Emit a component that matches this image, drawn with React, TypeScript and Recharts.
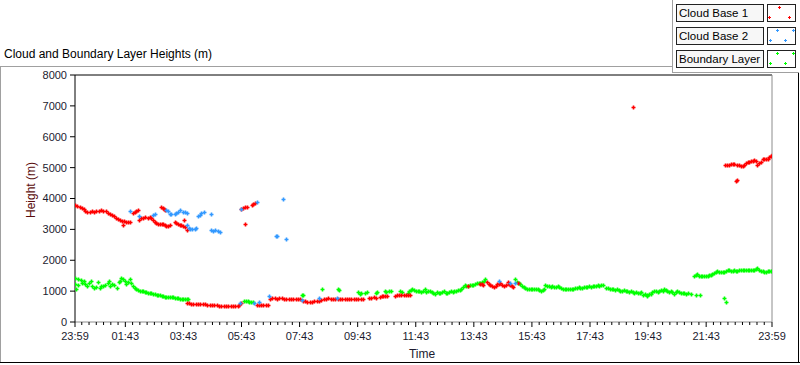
import React from "react";
import { ScatterChart, Scatter, XAxis, YAxis, ReferenceLine } from "recharts";

// hours since 23:59, label for each major tick
const timeTicks = [0, 1.7333, 3.7333, 5.7333, 7.7333, 9.7333, 11.7333, 13.7333, 15.7333, 17.7333, 19.7333, 21.7333, 24];
const timeLabels = ["23:59", "01:43", "03:43", "05:43", "07:43", "09:43", "11:43", "13:43", "15:43", "17:43", "19:43", "21:43", "23:59"];
const heightTicks = [0, 1000, 2000, 3000, 4000, 5000, 6000, 7000, 8000];

// [hours since 23:59, height m]
const cloudBase1: [number, number][] = [
  [0, 3780], [0.08, 3750], [0.16, 3720], [0.24, 3690], [0.3, 3660], [0.36, 3600], [0.42, 3570], [0.5, 3570],
  [0.58, 3580], [0.66, 3570], [0.74, 3590], [0.82, 3610], [0.9, 3620], [0.98, 3600], [1.06, 3580], [1.13, 3540],
  [1.2, 3500], [1.27, 3450], [1.34, 3420], [1.41, 3380], [1.48, 3350], [1.55, 3300], [1.62, 3270], [1.67, 3130],
  [1.7, 3260], [1.77, 3250], [1.84, 3230], [1.9, 3240],
  [1.99, 3530], [2.05, 3570], [2.11, 3600], [2.17, 3620], [2.22, 3290],
  [2.28, 3380], [2.35, 3380], [2.42, 3390], [2.5, 3380], [2.57, 3400], [2.63, 3360], [2.69, 3310], [2.75, 3250],
  [2.8, 3200], [2.86, 3190], [2.92, 3180], [2.98, 3170], [3.04, 3160], [3.1, 3150], [3.15, 3120], [3.2, 3095], [3.26, 3130],
  [2.97, 3730], [3.02, 3700], [3.07, 3660], [3.11, 3640],
  [3.43, 3240], [3.49, 3210], [3.55, 3180], [3.6, 3150], [3.66, 3130], [3.72, 3100], [3.78, 3070], [3.74, 3310], [3.87, 2990],
  [3.84, 600], [3.92, 600], [4.0, 598], [4.08, 595], [4.16, 592], [4.24, 590], [4.32, 590], [4.4, 585], [4.48, 575],
  [4.56, 565], [4.64, 555], [4.72, 548], [4.8, 545], [4.88, 540], [4.96, 530], [5.04, 525], [5.12, 515], [5.2, 512],
  [5.28, 510], [5.36, 515], [5.44, 510], [5.52, 512], [5.6, 530], [5.66, 560], [5.72, 600],
  [5.73, 3670], [5.79, 3700], [5.85, 3720], [5.91, 3740], [5.85, 3175], [6.08, 3800], [6.14, 3830], [6.2, 3860],
  [6.25, 545], [6.33, 545], [6.41, 545], [6.49, 545], [6.57, 548], [6.65, 545],
  [6.72, 760], [6.8, 770], [6.88, 780], [6.96, 760], [7.04, 770], [7.12, 775], [7.2, 760], [7.28, 750], [7.36, 740],
  [7.44, 740], [7.52, 740], [7.6, 745], [7.68, 745], [7.76, 740], [7.84, 690], [7.92, 670], [8.0, 660], [8.08, 650],
  [8.16, 660], [8.24, 670], [8.32, 665], [8.4, 690], [8.48, 720], [8.56, 740], [8.64, 760], [8.72, 770], [8.8, 760],
  [8.88, 750], [8.96, 745], [9.04, 760], [9.12, 750], [9.2, 745], [9.28, 740], [9.36, 750], [9.44, 755], [9.52, 745],
  [9.6, 750], [9.68, 760], [9.76, 755], [9.84, 750], [9.92, 750], [10.12, 770], [10.2, 790], [10.28, 800], [10.36, 790],
  [10.5, 820], [10.56, 840], [10.62, 850], [10.68, 830], [10.74, 855], [11.02, 850], [11.08, 870], [11.16, 880],
  [11.24, 860], [11.32, 870], [11.4, 880], [11.48, 875], [11.54, 870],
  [13.52, 1170], [13.95, 1220], [14.02, 1230], [14.06, 1210], [14.19, 1280], [14.25, 1240], [14.3, 1200], [14.36, 1170],
  [14.42, 1140], [14.48, 1180], [14.53, 1230], [14.59, 1240], [14.65, 1250], [14.7, 1200], [14.76, 1150], [14.83, 1210],
  [14.9, 1280], [14.95, 1240], [14.99, 1200], [15.04, 1160], [15.08, 1140], [15.27, 1250],
  [19.21, 6950],
  [22.38, 5073], [22.45, 5080], [22.52, 5100], [22.58, 5130], [22.64, 5130], [22.7, 5110], [22.76, 4564], [22.79, 4600],
  [22.81, 5100], [22.87, 5080], [22.93, 5050], [22.99, 5040], [23.05, 5090], [23.1, 5150], [23.16, 5180], [23.22, 5190],
  [23.28, 5200], [23.34, 5220], [23.39, 5240], [23.45, 5200], [23.5, 5100], [23.56, 5150], [23.62, 5180], [23.68, 5290],
  [23.74, 5280], [23.8, 5270], [23.85, 5290], [23.91, 5330], [23.96, 5370], [24, 5400],
];

const cloudBase2: [number, number][] = [
  [1.88, 3590], [2.22, 3420], [2.69, 3455], [2.74, 3490], [3.15, 3620], [3.2, 3580], [3.26, 3510], [3.32, 3500],
  [3.43, 3510], [3.49, 3540], [3.55, 3560], [3.6, 3620], [3.72, 3570], [3.78, 3560], [3.86, 3530], [3.87, 3130],
  [3.92, 3040], [3.97, 3020], [4.04, 3020], [4.12, 3020], [4.18, 3050], [4.24, 3430], [4.3, 3480], [4.35, 3530],
  [4.43, 3550], [4.68, 3510], [4.7, 2965], [4.76, 2960], [4.81, 2965], [4.93, 2950], [4.98, 2920], [5.71, 3665],
  [6.26, 3880], [6.92, 2800], [6.95, 2790], [7.17, 3990], [7.26, 2690],
  [5.68, 600], [6.15, 630], [6.34, 640], [6.69, 840], [7.8, 710], [8.41, 770], [9.03, 790],
  [14.59, 1333], [14.99, 1250], [15.16, 1270],
];

const boundaryLayer: [number, number][] = [
  [0, 1420], [0, 1240], [0.02, 1080], [0.1, 1390], [0.12, 1200], [0.2, 1370], [0.25, 1250], [0.3, 1330], [0.35, 1220],
  [0.42, 1180], [0.48, 1250], [0.55, 1330], [0.58, 1170], [0.65, 1110], [0.72, 1130], [0.8, 1280], [0.85, 1110],
  [0.9, 1150], [0.98, 1170], [1.05, 1200], [1.12, 1250], [1.17, 1330], [1.2, 1170], [1.27, 1230], [1.33, 1200],
  [1.44, 1090], [1.5, 1280], [1.54, 1330], [1.59, 1420], [1.64, 1380], [1.71, 1330], [1.77, 1220], [1.83, 1300],
  [1.88, 1380], [1.94, 1250], [2.0, 1170], [2.05, 1110], [2.11, 1070], [2.17, 1035], [2.23, 1020], [2.29, 1010],
  [2.34, 1000], [2.4, 980], [2.46, 960], [2.51, 948], [2.57, 935], [2.63, 925], [2.69, 915], [2.75, 900], [2.81, 890],
  [2.87, 880], [2.92, 870], [2.98, 850], [3.04, 830], [3.1, 815], [3.15, 806], [3.21, 810], [3.27, 800], [3.33, 806],
  [3.39, 810], [3.45, 790], [3.5, 775], [3.55, 763], [3.61, 760], [3.67, 755], [3.72, 752], [3.78, 745], [3.84, 740], [3.89, 730],
  [5.82, 680], [5.88, 680], [5.94, 670], [6.0, 660], [6.06, 650], [6.12, 640],
  [7.8, 870], [7.85, 860], [8.52, 1063], [9.07, 1063], [9.1, 1040], [9.75, 960], [9.8, 920], [9.85, 950], [10.0, 940],
  [10.06, 970], [10.35, 940], [10.4, 960], [10.66, 1000], [10.72, 980], [10.8, 1010], [10.89, 1000], [11.2, 1020], [11.25, 980],
  [11.45, 940], [11.5, 1000], [11.56, 1030], [11.62, 1060], [11.68, 1050], [11.74, 1020], [11.8, 990], [11.86, 1010],
  [11.92, 960], [11.98, 1000], [12.04, 1060], [12.1, 980], [12.16, 1020], [12.22, 1000], [12.28, 960], [12.34, 950],
  [12.4, 920], [12.46, 960], [12.52, 940], [12.58, 930], [12.64, 960], [12.7, 990], [12.76, 950], [12.82, 930],
  [12.88, 970], [12.94, 1000], [13.0, 960], [13.06, 990], [13.12, 1020], [13.18, 1050], [13.24, 1040], [13.3, 1060],
  [13.36, 1120], [13.42, 1190], [13.48, 1170], [13.54, 1180], [13.6, 1190], [13.66, 1200], [13.72, 1210], [13.78, 1230],
  [13.84, 1250], [13.9, 1260], [13.96, 1270], [14.02, 1300], [14.08, 1340], [14.13, 1380],
  [15.16, 1380], [15.22, 1300], [15.28, 1250], [15.33, 1220], [15.4, 1180], [15.46, 1140], [15.51, 1114], [15.57, 1070],
  [15.63, 1060], [15.69, 1060], [15.75, 1060], [15.81, 1055], [15.87, 1060], [15.93, 1060], [15.99, 1050], [16.05, 1020],
  [16.1, 1040], [16.15, 1060], [16.2, 1190], [16.26, 1170], [16.32, 1150], [16.38, 1140], [16.44, 1150], [16.5, 1140],
  [16.56, 1130], [16.62, 1150], [16.68, 1140], [16.74, 1100], [16.8, 1080], [16.86, 1060], [16.92, 1060], [16.98, 1065],
  [17.04, 1060], [17.1, 1080], [17.16, 1060], [17.22, 1090], [17.28, 1110], [17.34, 1120], [17.4, 1100], [17.46, 1090],
  [17.52, 1130], [17.58, 1140], [17.64, 1120], [17.7, 1150], [17.76, 1140], [17.82, 1160], [17.88, 1180], [17.94, 1170],
  [18.0, 1200], [18.06, 1160], [18.12, 1190], [18.18, 1200], [18.3, 1110], [18.36, 1100], [18.42, 1080], [18.48, 1080],
  [18.54, 1075], [18.6, 1050], [18.66, 1060], [18.72, 1030], [18.78, 1010], [18.84, 1000], [18.9, 1040], [18.96, 1000],
  [19.02, 990], [19.08, 980], [19.14, 1000], [19.2, 960], [19.26, 950], [19.32, 970], [19.38, 950], [19.44, 930],
  [19.5, 960], [19.56, 890], [19.62, 900], [19.68, 860], [19.71, 846], [19.76, 920], [19.82, 900], [19.88, 960],
  [19.94, 1010], [20.0, 1000], [20.06, 980], [20.12, 1020], [20.18, 1040], [20.24, 1020], [20.28, 1063], [20.34, 1030],
  [20.4, 1000], [20.46, 980], [20.51, 1010], [20.56, 970], [20.62, 920], [20.68, 960], [20.74, 990], [20.8, 960],
  [20.86, 955], [20.92, 930], [20.98, 940], [21.05, 920], [21.1, 930], [21.2, 920], [21.38, 878], [21.53, 878],
  [21.32, 1496], [21.38, 1530], [21.43, 1550], [21.49, 1500], [21.55, 1480], [21.6, 1475], [21.66, 1475], [21.72, 1480],
  [21.78, 1500], [21.84, 1510], [21.89, 1530], [21.95, 1560], [22.01, 1590], [22.07, 1620], [22.12, 1640], [22.18, 1630],
  [22.24, 1610], [22.3, 1620], [22.35, 1605], [22.41, 1650], [22.47, 1680], [22.53, 1670], [22.58, 1660], [22.64, 1650],
  [22.7, 1670], [22.76, 1660], [22.81, 1660], [22.87, 1670], [22.93, 1680], [22.99, 1670], [23.05, 1680], [23.1, 1690],
  [23.16, 1690], [23.22, 1680], [23.28, 1690], [23.34, 1700], [23.39, 1690], [23.45, 1710], [23.5, 1735], [23.56, 1700],
  [23.62, 1660], [23.68, 1640], [23.73, 1605], [23.79, 1630], [23.85, 1650], [23.91, 1660], [23.96, 1660], [24, 1660],
  [22.35, 792], [22.41, 661],
];

const RED = "#ff0000";
const BLUE = "#3399ff";
const GREEN = "#00ff00";
const FONT = "'Liberation Sans', Arial, sans-serif";
const TICK_COLOR = "#1b1b2f";

const series = [
  { name: "Boundary Layer", data: boundaryLayer, color: GREEN },
  { name: "Cloud Base 1", data: cloudBase1, color: RED },
  { name: "Cloud Base 2", data: cloudBase2, color: BLUE },
];

const legendItems = [
  { name: "Cloud Base 1", color: RED, marks: [[12, 3], [2, 13], [22, 13]] },
  { name: "Cloud Base 2", color: BLUE, marks: [[10, 3], [26, 3], [3, 13], [18, 13]] },
  { name: "Boundary Layer", color: GREEN, marks: [[10, 3], [26, 3], [3, 13], [18, 13]] },
];

// 15 minute minor ticks between the labelled ones
const minorTicks: number[] = [];
for (let k = -6; k < 90; k++) {
  const t = 1.7333 + k * 0.25;
  if (t > 0.05 && t < 23.95 && !timeTicks.some((m) => Math.abs(m - t) < 0.05)) minorTicks.push(+t.toFixed(4));
}
const allTicks = [...timeTicks, ...minorTicks].sort((a, b) => a - b);

const toPoints = (arr: [number, number][]) => arr.map(([t, v]) => ({ t, v }));

// small 3px "+" like the LabVIEW point style
const plus = (color: string) => (props: any) => {
  const { cx, cy } = props;
  if (cx == null || cy == null) return <g />;
  const x = Math.round(cx);
  const y = Math.round(cy);
  return (
    <path
      d={`M${x - 1.5},${y + 0.5}H${x + 2.5}M${x + 0.5},${y - 1.5}V${y + 2.5}`}
      stroke={color}
      strokeWidth={1.6}
      fill="none"
    />
  );
};

const TimeTick = (props: any) => {
  const { x, y, payload } = props;
  const i = timeTicks.findIndex((m) => Math.abs(m - payload.value) < 1e-6);
  const major = i >= 0;
  return (
    <g>
      <line x1={x} x2={x} y1={y} y2={y + (major ? 5 : 3)} stroke="#000" />
      {major && (
        <text x={x} y={y + 18} textAnchor="middle" fontSize={11} fill={TICK_COLOR} fontFamily={FONT}>
          {timeLabels[i]}
        </text>
      )}
    </g>
  );
};

const line = (style: React.CSSProperties): React.CSSProperties => ({ position: "absolute", ...style });

export default function App() {
  return (
    <div style={{ position: "absolute", left: 0, top: 0, width: 800, height: 365, background: "#fff", fontFamily: FONT }}>
      {/* outer frame */}
      <div style={line({ left: 0, top: 66, width: 672, height: 1, background: "#a0a0a0" })} />
      <div style={line({ left: 0, top: 66, width: 1, height: 297, background: "#a0a0a0" })} />
      <div style={line({ left: 0, top: 362, width: 800, height: 1, background: "#000" })} />
      <div style={line({ left: 798, top: 72, width: 1, height: 291, background: "#000" })} />

      {/* legend frame */}
      <div style={line({ left: 672, top: 0, width: 1, height: 73, background: "#a0a0a0" })} />
      <div style={line({ left: 672, top: 72, width: 127, height: 1, background: "#a0a0a0" })} />

      <div style={line({ left: 4, top: 46, fontSize: 12, lineHeight: "16px", color: "#000", whiteSpace: "nowrap" })}>
        Cloud and Boundary Layer Heights (m)
      </div>

      {legendItems.map((it, r) => (
        <React.Fragment key={it.name}>
          <div
            style={line({
              left: 676, top: 4 + r * 23, width: 84, height: 16, border: "1px solid #222", background: "#f7f7f7",
              fontSize: 11.5, lineHeight: "16px", paddingLeft: 2, boxSizing: "content-box", whiteSpace: "nowrap",
            })}
          >
            {it.name}
          </div>
          <svg style={line({ left: 767, top: 4 + r * 23 })} width={29} height={18}>
            <rect x={0.5} y={0.5} width={28} height={17} fill="#fff" stroke="#222" />
            {it.marks.map(([mx, my], j) => (
              <path key={j} d={`M${mx - 1},${my + 0.5}H${mx + 2}M${mx + 0.5},${my - 1}V${my + 2}`} stroke={it.color} fill="none" />
            ))}
          </svg>
        </React.Fragment>
      ))}

      <div
        style={line({
          left: 31, top: 190, fontSize: 12, color: "#5a0c0c", whiteSpace: "nowrap",
          transform: "translate(-50%, -50%) rotate(-90deg)",
        })}
      >
        Height (m)
      </div>
      <div style={line({ left: 422, top: 354, fontSize: 12, color: "#1b1b2f", transform: "translate(-50%, -50%)" })}>
        Time
      </div>

      <div style={line({ left: 0, top: 0 })}>
        <ScatterChart width={800} height={365} margin={{ top: 75, right: 28, bottom: 0, left: 0 }}>
          <XAxis
            dataKey="t"
            type="number"
            domain={[0, 24]}
            ticks={allTicks}
            interval={0}
            tickLine={false}
            tickSize={0}
            tickMargin={0}
            tick={TimeTick}
            axisLine={{ stroke: "#8c8c8c" }}
            height={43}
            allowDataOverflow
          />
          <YAxis
            dataKey="v"
            type="number"
            domain={[0, 8000]}
            ticks={heightTicks}
            interval={0}
            width={75}
            tickSize={5}
            tickMargin={3}
            tickLine={{ stroke: "#000" }}
            axisLine={{ stroke: "#000" }}
            tick={{ fontSize: 11, fill: TICK_COLOR, fontFamily: FONT }}
            allowDataOverflow
          />
          <ReferenceLine y={8000} stroke="#000" />
          <ReferenceLine x={24} stroke="#8c8c8c" />
          {series.map((s) => (
            <Scatter
              key={s.name}
              name={s.name}
              data={toPoints(s.data)}
              shape={plus(s.color)}
              isAnimationActive={false}
            />
          ))}
        </ScatterChart>
      </div>
    </div>
  );
}
